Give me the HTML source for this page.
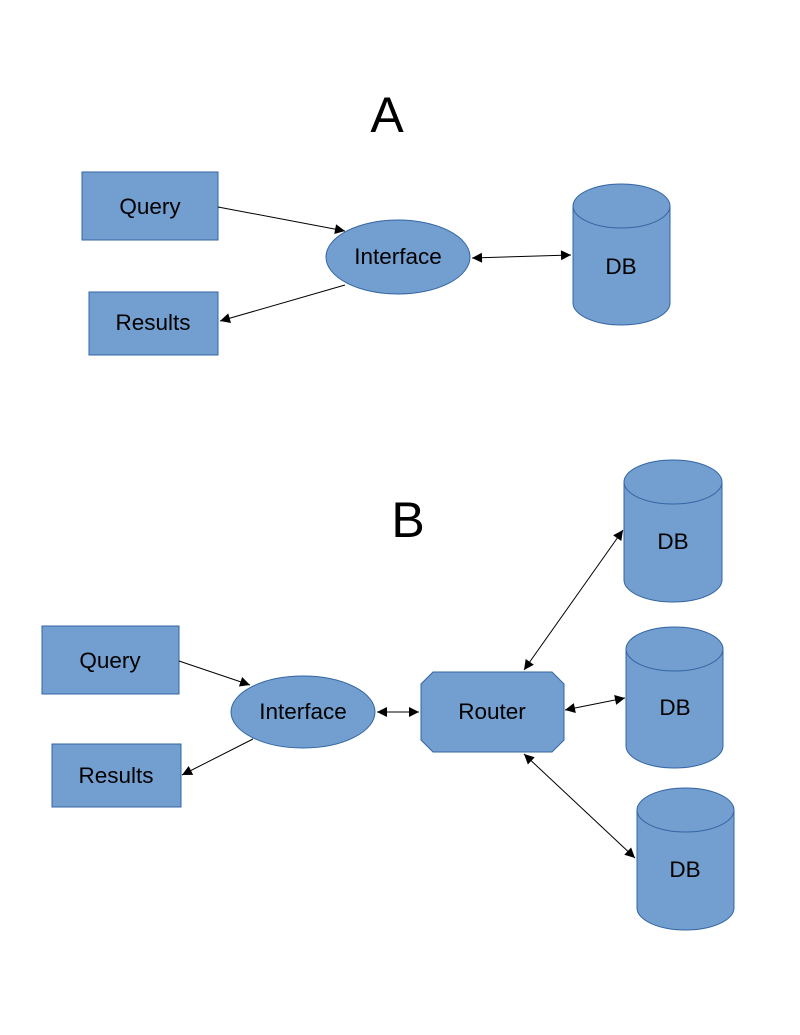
<!DOCTYPE html>
<html><head><style>body{margin:0;background:#fff}svg{display:block}</style></head><body>
<svg width="800" height="1035" viewBox="0 0 800 1035" xmlns="http://www.w3.org/2000/svg" font-family="Liberation Sans, sans-serif">
<defs>
<marker id="a" viewBox="0 0 10 10" refX="10" refY="5" markerWidth="14" markerHeight="10" markerUnits="userSpaceOnUse" orient="auto-start-reverse"><path d="M0,0L10,5L0,10z" fill="#000"/></marker>
</defs>
<g fill="#729fcf" stroke="#3465a4" stroke-width="1">
<rect x="82" y="172" width="136" height="68"/>
<rect x="89" y="292" width="129" height="63"/>
<ellipse cx="398" cy="257" rx="72" ry="37"/>
<path d="M573,206 V303 A48.5,22 0 0 0 670,303 V206 A48.5,22 0 0 0 573,206 Z"/>
<path d="M573,206 A48.5,22 0 0 0 670,206"/>
<rect x="42" y="626" width="137" height="68"/>
<rect x="52" y="744" width="129" height="63"/>
<ellipse cx="303" cy="712" rx="72" ry="36"/>
<path d="M433,672 H552 L564,684 V740 L552,752 H433 L421,740 V684 Z"/>
<path d="M624,482 V580 A49,22 0 0 0 722,580 V482 A49,22 0 0 0 624,482 Z"/>
<path d="M624,482 A49,22 0 0 0 722,482"/>
<path d="M626,649 V746 A48.5,22 0 0 0 723,746 V649 A48.5,22 0 0 0 626,649 Z"/>
<path d="M626,649 A48.5,22 0 0 0 723,649"/>
<path d="M637,810 V908 A48.5,22 0 0 0 734,908 V810 A48.5,22 0 0 0 637,810 Z"/>
<path d="M637,810 A48.5,22 0 0 0 734,810"/>
</g>
<g stroke="#000" stroke-width="1" fill="none">
<line x1="218" y1="207" x2="345" y2="231" marker-end="url(#a)"/>
<line x1="345" y1="285" x2="220" y2="321" marker-end="url(#a)"/>
<line x1="472" y1="258" x2="571" y2="255" marker-start="url(#a)" marker-end="url(#a)"/>
<line x1="179" y1="661" x2="250" y2="685" marker-end="url(#a)"/>
<line x1="253" y1="739" x2="182" y2="775" marker-end="url(#a)"/>
<line x1="377" y1="712" x2="419" y2="712" marker-start="url(#a)" marker-end="url(#a)"/>
<line x1="524" y1="670" x2="623" y2="530" marker-start="url(#a)" marker-end="url(#a)"/>
<line x1="565" y1="710" x2="625" y2="698" marker-start="url(#a)" marker-end="url(#a)"/>
<line x1="524" y1="754" x2="635" y2="858" marker-start="url(#a)" marker-end="url(#a)"/>
</g>
<g fill="#000" font-size="22.5" text-anchor="middle">
<text x="387" y="132" font-size="50">A</text>
<text x="408" y="537" font-size="50">B</text>
<text x="150" y="214">Query</text>
<text x="153" y="330">Results</text>
<text x="398" y="264">Interface</text>
<text x="621" y="274">DB</text>
<text x="110" y="668">Query</text>
<text x="116" y="783">Results</text>
<text x="303" y="719">Interface</text>
<text x="492" y="719">Router</text>
<text x="673" y="549">DB</text>
<text x="675" y="715">DB</text>
<text x="685" y="877">DB</text>
</g>
</svg>
</body></html>
